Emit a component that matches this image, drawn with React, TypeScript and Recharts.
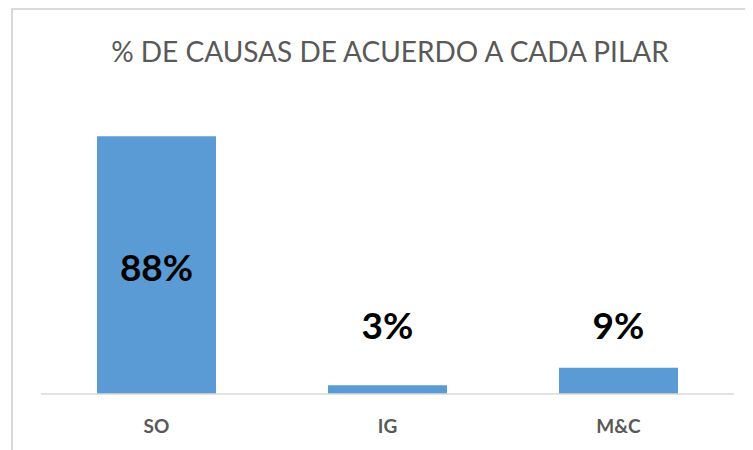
import { BarChart, Bar, XAxis, YAxis, LabelList } from "recharts";

const pilares = ["SO", "IG", "M&C"];
const porcentajes = [88, 3, 9];

const data = pilares.map((name, i) => ({ name, value: porcentajes[i] }));

const font = "Lato, 'Open Sans', sans-serif";

function CategoryTick({ x, y, payload }: any) {
  return (
    <text x={x} y={y + 31} textAnchor="middle" fill="#595959" fontFamily={font} fontWeight={700} fontSize={19}>
      {payload.value}
    </text>
  );
}

function ValueLabel({ x, y, width, height, value }: any) {
  const base = y + height;
  // big bar: label inside the bar, small ones: floated above
  const cy = height > 100 ? y + height / 2 + 6 : base - 64;
  return (
    <text x={x + width / 2} y={cy} textAnchor="middle" dominantBaseline="middle" fill="#000" fontFamily={font} fontWeight={700} fontSize={37}>
      {value}%
    </text>
  );
}

export default function App() {
  return (
    <div style={{ position: "relative", width: 745, height: 442, overflow: "hidden", background: "#fff" }}>
      <div style={{ position: "absolute", left: 3, top: 0, width: 800, height: 500, border: "2px solid #d9d9d9", boxSizing: "border-box" }} />
      <div
        style={{
          position: "absolute",
          left: -8,
          top: 26,
          width: 780,
          textAlign: "center",
          fontFamily: font,
          fontSize: 28,
          color: "#595959",
          lineHeight: "34px",
        }}
      >
        % DE CAUSAS DE ACUERDO A CADA PILAR
      </div>
      <div style={{ position: "absolute", left: -8, top: -8 }}>
        <BarChart width={753} height={450} data={data} margin={{ top: 101, right: 19, left: 41, bottom: 0 }}>
          <YAxis hide domain={[0, 100]} />
          <XAxis
            dataKey="name"
            height={56}
            tickLine={false}
            axisLine={{ stroke: "#d9d9d9", strokeWidth: 1.5 }}
            tick={<CategoryTick />}
            interval={0}
          />
          <Bar dataKey="value" fill="#5b9bd5" barSize={119} isAnimationActive={false}>
            <LabelList dataKey="value" content={<ValueLabel />} />
          </Bar>
        </BarChart>
      </div>
    </div>
  );
}
